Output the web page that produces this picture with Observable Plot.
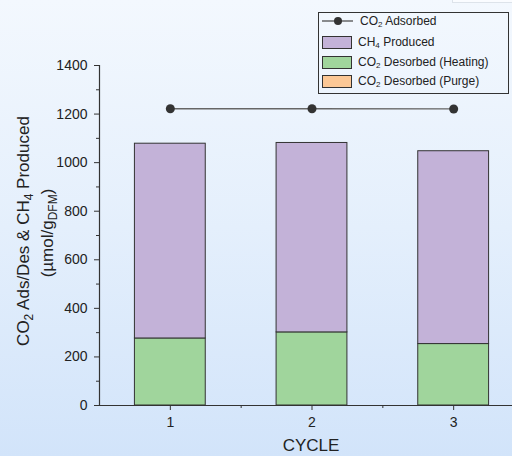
<!DOCTYPE html>
<html>
<head>
<meta charset="utf-8">
<script src="https://cdn.jsdelivr.net/npm/d3@7"></script>
<script src="https://cdn.jsdelivr.net/npm/@observablehq/plot@0.6"></script>
<style>
  html, body { margin: 0; padding: 0; }
  #wrap {
    position: relative; width: 512px; height: 456px; overflow: hidden;
    background: linear-gradient(to bottom, #f3f8fe 0%, #e4effc 50%, #d2e4fa 100%);
    font-family: "Liberation Sans", Arial, sans-serif; color: #222;
  }
  #legend {
    position: absolute; left: 318px; top: 12px; width: 189px; height: 80px;
    border: 1px solid #333; font-size: 12px;
  }
  .row { position: absolute; left: 0; height: 20px; display: flex; align-items: center; }
  .sw { width: 30px; height: 13px; border: 1px solid #333; margin-left: 3px; box-sizing: border-box; }
  .lab { margin-left: 6px; white-space: nowrap; }
  sub { font-size: 8px; vertical-align: -2px; line-height: 0; }
  #corner { position: absolute; left: 452px; top: -10px; width: 70px; height: 11px; border: 1px solid #dde3ea; background: #fafcff; }
  svg text { font-family: "Liberation Sans", Arial, sans-serif; }
</style>
</head>
<body>
<div id="wrap"></div>
<script>
const cycles = [1, 2, 3];
const heating = [276, 301, 253];
const purge = [0, 0, 0];
const ch4 = [802, 780, 794];
const adsorbed = [1222, 1222, 1221];
const yTicks = [0, 200, 400, 600, 800, 1000, 1200, 1400];
const yMinor = [100, 300, 500, 700, 900, 1100, 1300];
const xTicks = [1, 2, 3];
const xMinor = [1.5, 2.5];
const seriesNames = ["CO2 Desorbed (Purge)", "CO2 Desorbed (Heating)", "CH4 Produced"];
const seriesColors = ["#fcc896", "#a0d59c", "#c3b2d8"];

// stacked segments table (bottom -> top: purge, heating, ch4)
const segs = [];
cycles.forEach((c, i) => {
  let base = 0;
  [purge[i], heating[i], ch4[i]].forEach((v, k) => {
    if (v > 0) segs.push({cycle: c, series: seriesNames[k], y1: base, y2: base + v});
    base += v;
  });
});
const ads = cycles.map((c, i) => ({cycle: c, v: adsorbed[i]}));

const svg = Plot.plot({
  width: 512, height: 456,
  marginLeft: 99, marginRight: 0, marginTop: 65, marginBottom: 51,
  style: {background: "transparent", fontFamily: "Liberation Sans, Arial, sans-serif", fontSize: "14px", color: "#222"},
  x: {type: "linear", domain: [0.5, 3.5], range: [99, 524], axis: null},
  y: {domain: [0, 1400], axis: null},
  color: {domain: seriesNames, range: seriesColors},
  marks: [
    Plot.rect(segs, {x1: d => d.cycle - 0.25, x2: d => d.cycle + 0.25, y1: "y1", y2: "y2", fill: "series", stroke: "#333", strokeWidth: 1}),
    Plot.line(ads, {x: "cycle", y: "v", stroke: "#666", strokeWidth: 1.3}),
    Plot.dot(ads, {x: "cycle", y: "v", r: 4.5, fill: "#333", stroke: "none"}),
    Plot.ruleX([0.5], {y1: 0, y2: 1400, stroke: "#333", strokeWidth: 1.2}),
    Plot.ruleY([0], {x1: 0.5, x2: 3.6, stroke: "#333", strokeWidth: 1.2}),
    Plot.axisY({ticks: yTicks, tickSize: 5, tickPadding: 7, tickFormat: d => String(d), fontSize: 14, label: null, stroke: "#333", fill: "#222"}),
    Plot.axisY({ticks: yMinor, tickSize: 3, text: null, label: null, stroke: "#333"}),
    Plot.axisX({ticks: xTicks, tickSize: 5, tickPadding: 7, tickFormat: d => String(d), fontSize: 14, label: null, stroke: "#333", fill: "#222"}),
    Plot.axisX({ticks: xMinor, tickSize: 3, text: null, label: null, stroke: "#333"})
  ]
});

const s = d3.select(svg);
// x title
s.append("text").attr("x", 311).attr("y", 451).attr("text-anchor", "middle")
  .attr("font-size", 17).attr("fill", "#222").text("CYCLE");
// y title
const t1 = s.append("text").attr("transform", "translate(29,231) rotate(-90)")
  .attr("text-anchor", "middle").attr("font-size", 17).attr("fill", "#222");
t1.append("tspan").text("CO");
t1.append("tspan").attr("font-size", 12).attr("dy", 4).text("2");
t1.append("tspan").attr("dy", -4).text(" Ads/Des & CH");
t1.append("tspan").attr("font-size", 12).attr("dy", 4).text("4");
t1.append("tspan").attr("dy", -4).text(" Produced");
const t2 = s.append("text").attr("transform", "translate(53,233) rotate(-90)")
  .attr("text-anchor", "middle").attr("font-size", 17).attr("fill", "#222");
t2.append("tspan").text("(\u00B5mol/g");
t2.append("tspan").attr("font-size", 12).attr("dy", 4).text("DFM");
t2.append("tspan").attr("dy", -4).text(")");

const wrap = document.getElementById("wrap");
wrap.appendChild(svg);
svg.style.position = "absolute"; svg.style.left = "0"; svg.style.top = "0";

const corner = document.createElement("div"); corner.id = "corner"; wrap.appendChild(corner);

const legend = document.createElement("div");
legend.id = "legend";
legend.innerHTML = `
  <div class="row" style="top:-2px">
    <svg width="33" height="14" style="margin-left:3px"><line x1="0" x2="31" y1="7" y2="7" stroke="#444" stroke-width="1.2"/><circle cx="16" cy="7" r="4" fill="#333"/></svg>
    <span class="lab" style="margin-left:5px">CO<sub>2</sub> Adsorbed</span></div>
  <div class="row" style="top:19px"><div class="sw" style="background:${seriesColors[2]}"></div><span class="lab">CH<sub>4</sub> Produced</span></div>
  <div class="row" style="top:39px"><div class="sw" style="background:${seriesColors[1]}"></div><span class="lab">CO<sub>2</sub> Desorbed (Heating)</span></div>
  <div class="row" style="top:58px"><div class="sw" style="background:${seriesColors[0]}"></div><span class="lab">CO<sub>2</sub> Desorbed (Purge)</span></div>`;
wrap.appendChild(legend);
</script>
</body>
</html>
